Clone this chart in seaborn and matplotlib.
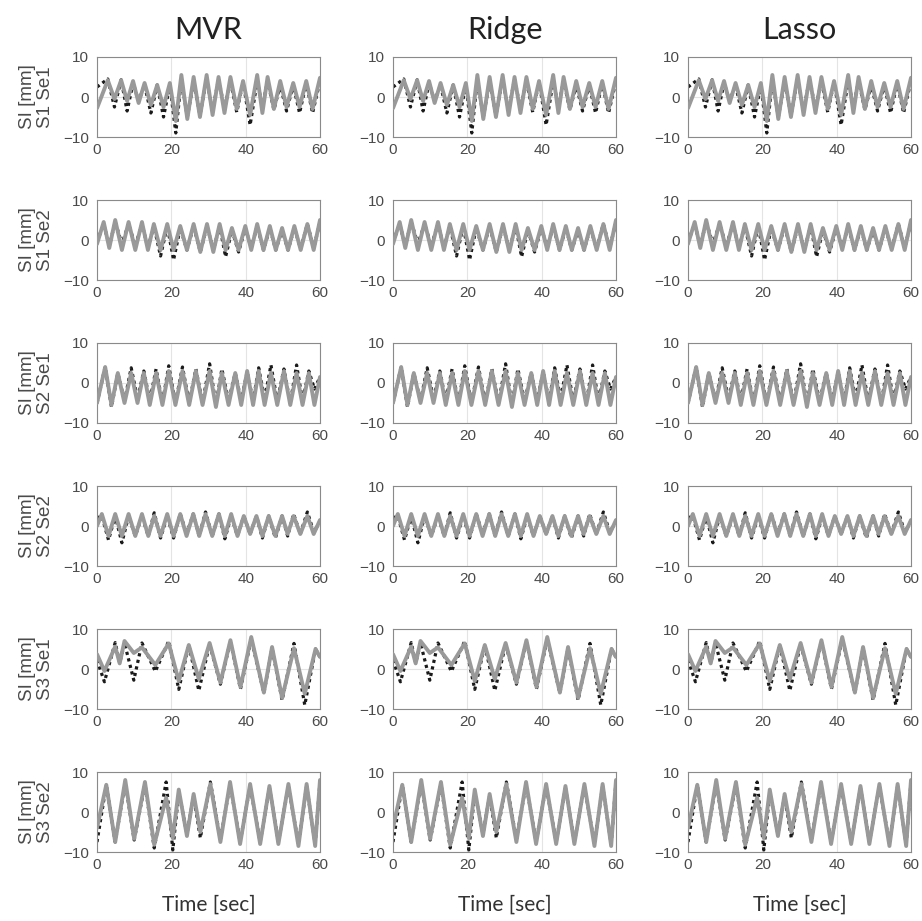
import numpy as np
import pandas as pd
import matplotlib
matplotlib.use("Agg")
import matplotlib.pyplot as plt
import seaborn as sns

methods = ["MVR", "Ridge", "Lasso"]
row_labels = ["SI [mm]\nS1 Se1", "SI [mm]\nS1 Se2", "SI [mm]\nS2 Se1",
              "SI [mm]\nS2 Se2", "SI [mm]\nS3 Se1", "SI [mm]\nS3 Se2"]
x_ticks = [0, 20, 40, 60]
y_ticks = [-10, 0, 10]

# S1 Se1
t1 = [0, 2.9, 4.7, 6.5, 8.1, 9.7, 11.2, 12.8, 14.5, 16.2, 17.9, 19.6, 21.2, 22.7, 24.3, 26.0, 27.7, 29.5,
      31.1, 32.7, 34.3, 35.9, 37.6, 39.3, 41.2, 43.1, 44.5, 45.9, 47.6, 49.3, 51.0, 52.8, 54.5, 56.3, 58.0, 60]
pred1 = [-2.8, 4.2, -0.5, 4.2, -1.0, 4.0, -1.5, 3.5, -2.0, 3.0, -2.5, 3.5, -6.0, 5.5, -5.5, 5.0, -5.0, 5.5,
         -4.5, 5.0, -4.0, 5.0, -3.0, 4.0, -4.5, 5.5, -4.0, 5.0, -3.0, 4.0, -2.5, 3.5, -2.5, 4.0, -3.0, 4.8]
true1 = [2.5, 4.5, -2.5, 4.3, -3.5, 3.5, -1.0, 3.0, -4.0, 3.0, -5.0, 3.0, -9.0, 4.5, -5.0, 4.0, -4.5, 4.5,
         -3.5, 4.5, -3.0, 4.0, -3.8, 3.8, -7.0, 4.0, -2.5, 4.0, -3.2, 3.0, -3.5, 3.0, -4.0, 3.5, -4.0, 4.0]

# S1 Se2
t2 = [0, 1.8, 3.3, 4.9, 6.7, 8.5, 10.3, 12.1, 13.7, 15.3, 17.1, 18.9, 20.6, 22.4, 24.2, 26.0, 27.8, 29.6,
      31.3, 33.0, 34.6, 36.3, 38.1, 39.9, 41.5, 43.1, 44.8, 46.5, 48.1, 49.8, 51.4, 53.1, 54.8, 56.6, 58.3, 60]
pred2 = [-1.0, 4.5, -2.0, 5.0, -2.5, 4.5, -2.5, 4.5, -2.5, 4.0, -2.5, 4.0, -2.5, 3.5, -2.5, 4.0, -3.0, 4.0,
         -3.0, 4.0, -2.5, 3.0, -2.5, 3.5, -2.5, 4.0, -2.5, 3.5, -2.5, 3.0, -2.5, 3.5, -2.5, 4.0, -2.5, 5.0]
true2 = [-0.5, 4.0, -1.5, 4.5, -1.0, 4.0, -1.5, 4.0, -2.0, 3.5, -4.0, 3.5, -5.0, 3.0, -2.5, 3.5, -3.0, 3.5,
         -2.5, 3.5, -4.2, 2.5, -3.0, 3.0, -2.0, 3.5, -2.5, 3.0, -2.5, 2.5, -2.5, 3.0, -2.2, 4.0, -2.0, 4.5]

# S2 Se1
t3 = [0, 2.2, 3.9, 5.6, 7.4, 9.2, 10.9, 12.6, 14.2, 15.9, 17.6, 19.3, 21.1, 23.0, 24.8, 26.6, 28.4, 30.3,
      32.0, 33.6, 35.4, 37.2, 38.8, 40.4, 42.0, 43.5, 45.1, 46.8, 48.5, 50.3, 52.0, 53.7, 55.3, 57.0, 58.5, 60]
pred3 = [-5.0, 4.0, -5.5, 2.5, -5.0, 2.5, -5.0, 2.5, -5.5, 2.5, -5.5, 3.0, -5.5, 3.0, -5.5, 3.0, -5.5, 3.0,
         -6.0, 2.5, -5.5, 2.5, -5.5, 3.0, -5.5, 3.0, -5.5, 2.5, -5.5, 3.0, -5.5, 2.5, -5.5, 2.5, -5.5, 1.5]
true3 = [-5.0, 4.0, -6.0, 2.5, -4.5, 3.8, -4.0, 3.0, -4.5, 3.5, -5.0, 4.3, -5.0, 4.0, -5.0, 3.5, -5.0, 4.8,
         -5.5, 3.5, -4.5, 2.5, -4.5, 2.8, -4.5, 3.8, -4.0, 4.5, -4.5, 3.5, -5.0, 4.5, -4.5, 3.0, -1.5, 1.5]

# S2 Se2
t4 = [0, 1.3, 3.1, 4.9, 6.7, 8.5, 10.3, 12.1, 13.8, 15.4, 17.1, 18.9, 20.6, 22.4, 24.1, 25.9, 27.5, 29.2,
      31.0, 32.8, 34.4, 36.1, 37.8, 39.5, 41.2, 42.9, 44.5, 46.2, 48.0, 49.8, 51.3, 52.9, 54.7, 56.6, 58.3, 60]
pred4 = [0.0, 3.0, -2.5, 3.0, -2.5, 3.0, -2.5, 3.0, -2.5, 2.5, -2.5, 3.0, -2.5, 3.0, -2.5, 3.0, -2.5, 3.0,
         -2.5, 3.0, -2.5, 3.0, -2.5, 2.5, -2.0, 2.5, -2.5, 2.5, -2.5, 2.5, -2.0, 2.5, -2.0, 2.5, -2.0, 1.5]
true4 = [2.0, 2.5, -3.5, 2.5, -4.2, 2.5, -2.5, 2.5, -2.5, 3.3, -3.0, 2.5, -3.0, 3.0, -2.0, 3.0, -2.5, 3.5,
         -2.5, 3.0, -3.2, 2.5, -2.5, 2.5, -2.0, 2.5, -3.0, 2.5, -3.0, 2.5, -2.5, 3.0, -2.0, 3.5, -1.5, 1.0]

# S3 Se1
t5 = [0, 2.0, 4.9, 6.1, 7.4, 9.9, 12.1, 15.7, 19.3, 22.0, 24.7, 27.4, 30.3, 33.2, 35.9, 38.6, 41.5, 44.9,
      47.1, 49.8, 53.0, 55.9, 58.8, 60]
pred5 = [3.7, -0.5, 5.6, 1.4, 7.0, 4.0, 5.4, 1.0, 6.4, -3.0, 6.0, -2.5, 6.5, -3.4, 7.2, -4.5, 8.0, -5.9,
         5.5, -7.2, 5.2, -6.2, 5.0, 3.0]
true5 = [2.2, -3.2, 6.6, 1.5, 6.5, -2.8, 6.5, -0.6, 7.0, -5.1, 6.0, -5.4, 6.2, -3.8, 7.0, -5.0, 7.5, -6.0,
         5.2, -7.8, 6.4, -9.0, 5.0, 3.0]

# S3 Se2
t6 = [0, 2.5, 4.9, 7.6, 10.0, 12.9, 15.4, 18.6, 20.4, 22.0, 24.2, 26.0, 27.8, 30.5, 33.2, 35.8, 38.5, 41.2,
      43.9, 46.4, 48.8, 51.5, 54.2, 56.4, 58.7, 60]
pred6 = [-4.0, 6.8, -7.5, 8.0, -6.7, 7.5, -8.2, 3.6, -6.5, 5.6, -6.0, 4.5, -5.0, 7.0, -7.5, 7.5, -8.0, 7.0,
         -8.0, 6.5, -8.0, 7.0, -8.5, 7.0, -8.5, 8.0]
true6 = [-7.5, 6.8, -7.5, 7.5, -7.0, 7.0, -9.0, 7.5, -9.5, 5.0, -5.5, 4.0, -6.5, 7.5, -7.0, 7.0, -7.5, 6.5,
         -7.5, 6.0, -7.5, 6.5, -8.0, 6.5, -8.0, 7.5]

times = [t1, t2, t3, t4, t5, t6]
preds = [pred1, pred2, pred3, pred4, pred5, pred6]
trues = [true1, true2, true3, true4, true5, true6]

sns.set_style("white")
plt.rcParams["font.family"] = ["Liberation Sans", "DejaVu Sans"]

fig = plt.figure(figsize=(9.22, 9.21), dpi=100)
W, H = 922, 921
col_left = [97, 393, 688]
row_bottom = [137, 280, 423, 566, 709, 852]
aw, ah = 223, 80

tick_col = "#4a4a4a"
spine_col = "#8a8a8a"

for r in range(6):
    for c in range(3):
        ax = fig.add_axes([col_left[c] / W, 1 - row_bottom[r] / H, aw / W, ah / H])
        ax.set_axisbelow(True)
        ax.grid(True, color="#e4e4e4", linewidth=0.8)
        df = pd.DataFrame({"t": times[r], "true": trues[r], "pred": preds[r]})
        sns.lineplot(data=df, x="t", y="true", ax=ax, color="#1a1a1a", linewidth=2.3,
                     linestyle=(0, (1, 1.1)), zorder=2)
        sns.lineplot(data=df, x="t", y="pred", ax=ax, color="#999999", linewidth=2.8,
                     solid_joinstyle="round", zorder=3)
        ax.set_xlim(0, 60)
        ax.set_ylim(-10, 10)
        ax.set_xticks(x_ticks)
        ax.set_yticks(y_ticks)
        ax.tick_params(direction="in", length=3, width=0.6, color=spine_col,
                       labelsize=11, labelcolor=tick_col)
        ax.tick_params(axis="y", pad=6)
        ax.tick_params(axis="x", pad=4)
        for s in ax.spines.values():
            s.set_color(spine_col)
            s.set_linewidth(0.8)
        ax.set_xlabel("")
        ax.set_ylabel("")
        if c == 0:
            ax.set_ylabel(row_labels[r], fontsize=13.5, color=tick_col, labelpad=6,
                          linespacing=1.1)
        if r == 0:
            ax.set_title(methods[c], fontsize=22, family=["Lato", "DejaVu Sans"],
                         color="#222222", pad=13)
        if r == 5:
            ax.set_xlabel("Time [sec]", fontsize=15, family=["Lato", "DejaVu Sans"],
                          color="#333333", labelpad=17)

fig.savefig("out.png", dpi=100)
